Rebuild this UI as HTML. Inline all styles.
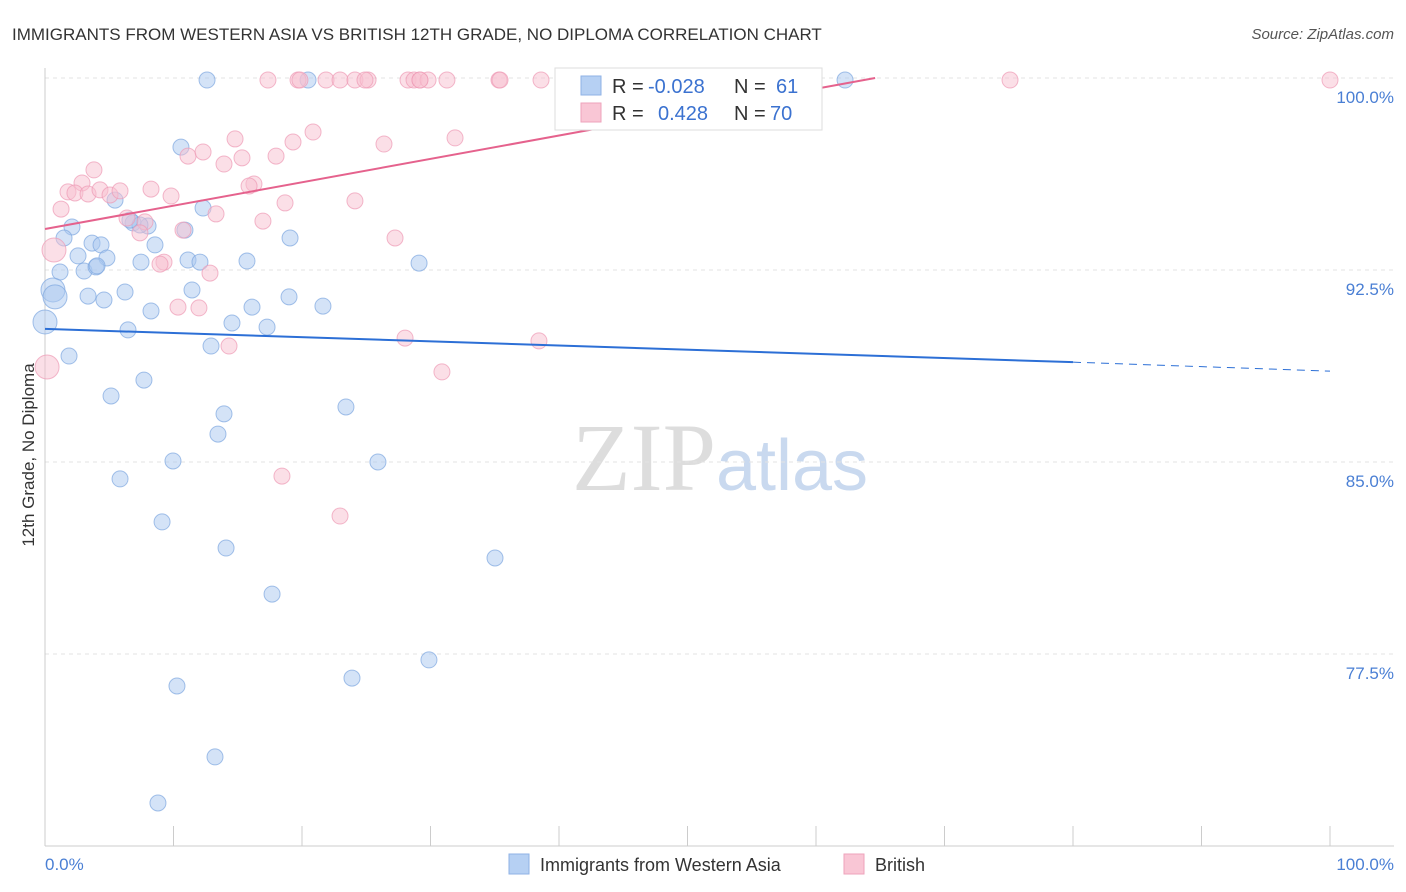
<!DOCTYPE html>
<html><head><meta charset="utf-8"><style>
body{margin:0;background:#fff;font-family:"Liberation Sans",sans-serif;}
svg{display:block}
</style></head><body>
<svg width="1406" height="892" xmlns="http://www.w3.org/2000/svg" id="chart">
<text x="12" y="40" font-size="17" fill="#333">IMMIGRANTS FROM WESTERN ASIA VS BRITISH 12TH GRADE, NO DIPLOMA CORRELATION CHART</text>
<text x="1394" y="39" font-size="15" fill="#555" font-style="italic" text-anchor="end">Source: ZipAtlas.com</text>
<text x="720" y="490" font-size="96" text-anchor="middle" font-family="Liberation Serif" fill="#ddd">ZIP<tspan fill="#c9d9ef" font-family="Liberation Sans" font-size="72">atlas</tspan></text>
<g id="grid"></g><g id="pts"></g><g id="lines"></g>
<text transform="translate(34,455) rotate(-90)" font-size="17" fill="#333" text-anchor="middle">12th Grade, No Diploma</text>
<text x="45" y="870" font-size="17" fill="#4a7fd4">0.0%</text>
<text x="1394" y="870" font-size="17" fill="#4a7fd4" text-anchor="end">100.0%</text>
<g>
<rect x="555" y="68" width="267" height="62" fill="#fff" stroke="#ddd"/>
<rect x="581" y="76" width="20" height="19" fill="#b6d0f3" stroke="#8fb2e6"/>
<rect x="581" y="103" width="20" height="19" fill="#f9c6d5" stroke="#eea3bb"/>
<text x="612" y="93" font-size="20" fill="#333">R = <tspan fill="#3b72d0" x="648">-0.028</tspan><tspan x="734">N = </tspan><tspan fill="#3b72d0" x="776">61</tspan></text>
<text x="612" y="120" font-size="20" fill="#333">R = <tspan fill="#3b72d0" x="658">0.428</tspan><tspan x="734">N = </tspan><tspan fill="#3b72d0" x="770">70</tspan></text>
</g>
<g>
<rect x="509" y="854" width="20" height="20" fill="#b6d0f3" stroke="#8fb2e6"/>
<text x="540" y="871" font-size="18" fill="#333">Immigrants from Western Asia</text>
<rect x="844" y="854" width="20" height="20" fill="#f9c6d5" stroke="#eea3bb"/>
<text x="875" y="871" font-size="18" fill="#333">British</text>
</g>
</svg>
<script>
const yTicks=[100,92.5,85,77.5];
const xTicks=[0,10,20,30,40,50,60,70,80,90,100];
const bluePx=[[207,80],[308,80],[845,80],[181,147],[115,200],[203,208],[133,223],[148,226],[72,227],[64,238],[92,243],[101,245],[155,245],[290,238],[78,256],[107,258],[141,262],[188,260],[200,262],[247,261],[419,263],[60,272],[84,271],[96,267],[53,290],[55,297],[88,296],[104,300],[125,292],[151,311],[192,290],[252,307],[289,297],[323,306],[45,322],[128,330],[232,323],[267,327],[211,346],[69,356],[144,380],[111,396],[224,414],[346,407],[218,434],[173,461],[378,462],[120,479],[162,522],[226,548],[495,558],[272,594],[429,660],[177,686],[352,678],[215,757],[158,803],[185,230],[97,266],[140,225],[130,220]];
const pinkPx=[[268,80],[298,80],[326,80],[340,80],[355,80],[368,80],[408,80],[414,80],[420,80],[428,80],[447,80],[499,80],[541,80],[585,80],[652,80],[712,80],[1010,80],[1330,80],[313,132],[235,139],[293,142],[455,138],[384,144],[188,156],[203,152],[242,158],[224,164],[276,156],[94,170],[82,183],[254,184],[68,192],[75,193],[88,194],[100,190],[110,195],[120,191],[151,189],[171,196],[249,186],[61,209],[127,218],[145,222],[216,214],[263,221],[285,203],[355,201],[140,233],[183,230],[395,238],[54,250],[164,262],[160,264],[210,273],[178,307],[199,308],[229,346],[405,338],[539,341],[442,372],[47,367],[282,476],[340,516],[640,80],[720,80],[420,80],[300,80],[365,80],[700,80],[500,80]];
const X0=45,X1=1330,Y0=78,PY=25.6;
const toX=v=>+(((v-X0)/12.85).toFixed(2)), toY=v=>+((100-(v-Y0)/PY).toFixed(2));
const blueX=bluePx.map(p=>toX(p[0])), blueY=bluePx.map(p=>toY(p[1]));
const pinkX=pinkPx.map(p=>toX(p[0])), pinkY=pinkPx.map(p=>toY(p[1]));
const blueFit=[90.2,88.9,88.55], pinkFit=[94.1,100];
const sx=v=>X0+v*(X1-X0)/100, sy=v=>Y0+(100-v)*PY;
const NS="http://www.w3.org/2000/svg";
function mk(t,a,p){const e=document.createElementNS(NS,t);for(const k in a)e.setAttribute(k,a[k]);document.getElementById(p).appendChild(e);return e;}
yTicks.forEach(t=>{const l=mk('line',{x1:45,x2:1394,y1:sy(t),y2:sy(t),stroke:'#e3e3e3','stroke-dasharray':'4,4'},'grid');


const tx=mk('text',{x:1394,y:sy(t)+25,'font-size':17,fill:'#4a7fd4','text-anchor':'end'},'grid');tx.textContent=t.toFixed(1)+'%';

});
mk('line',{x1:45,x2:45,y1:68,y2:846,stroke:'#ccc'},'grid');
mk('line',{x1:45,x2:1394,y1:846,y2:846,stroke:'#ccc'},'grid');
xTicks.forEach(t=>{const l=mk('line',{x1:sx(t),x2:sx(t),y1:826,y2:846,stroke:'#ccc'},'grid');

});
function pts(xs,ys,fill,stroke,name){xs.forEach((x,i)=>{const big=x<1.0;const c=mk('circle',{cx:sx(x),cy:sy(ys[i]),r:big?12:8,fill:fill,'fill-opacity':0.5,stroke:stroke,'stroke-opacity':0.7},'pts');

});}
pts(blueX,blueY,'#a9c7f0','#7ea6e0','blue-point');
pts(pinkX,pinkY,'#f8bfd0','#ee9ab5','pink-point');
let l=mk('line',{x1:sx(0),y1:sy(blueFit[0]),x2:sx(80),y2:sy(blueFit[1]),stroke:'#2c6fd6','stroke-width':2},'lines');


l=mk('line',{x1:sx(80),y1:sy(blueFit[1]),x2:sx(100),y2:sy(blueFit[2]),stroke:'#2c6fd6','stroke-width':1,'stroke-dasharray':'8,6'},'lines');


l=mk('line',{x1:sx(0),y1:sy(pinkFit[0]),x2:sx(64.6),y2:sy(pinkFit[1]),stroke:'#e5628d','stroke-width':2},'lines');


</script>
</body></html>
